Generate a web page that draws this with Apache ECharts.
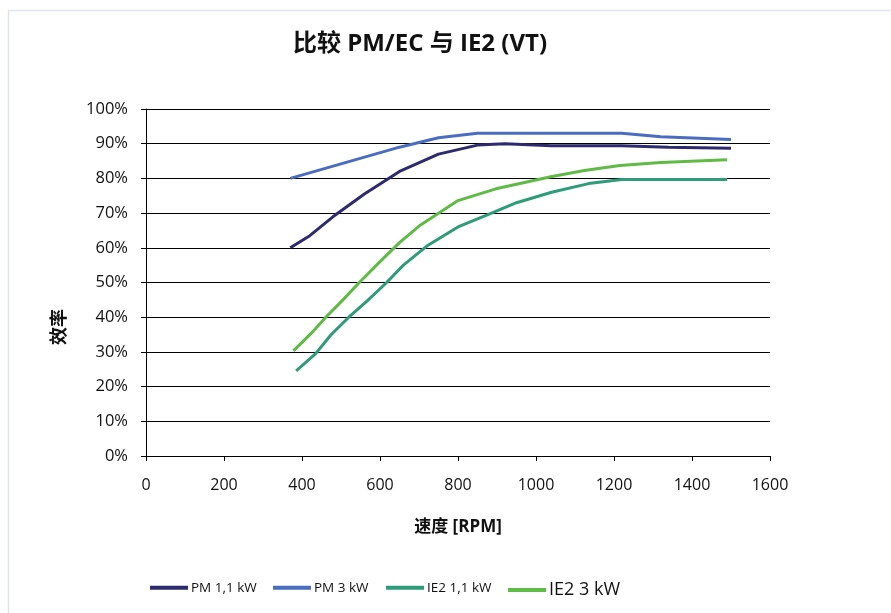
<!DOCTYPE html>
<html>
<head>
<meta charset="utf-8">
<script src="https://cdn.jsdelivr.net/npm/echarts@6/dist/echarts.min.js"></script>
<style>html,body{margin:0;padding:0;background:#fff}#c{width:891px;height:613px}</style>
</head>
<body>
<div id="c"></div>
<script>
var xTicks = [0, 200, 400, 600, 800, 1000, 1200, 1400, 1600];
var seriesNames = ['PM 1,1 kW', 'PM 3 kW', 'IE2 1,1 kW', 'IE2 3 kW'];
var pm11 = [[370,60],[420,63.5],[480,69],[560,75.5],[650,82],[750,87],[850,89.6],[920,90],[1040,89.4],[1220,89.4],[1340,89],[1500,88.7]];
var pm3 = [[370,80],[650,89],[750,91.7],[850,93],[1120,93],[1220,93],[1320,92],[1500,91.2]];
var ie211 = [[385,24.5],[435,29.5],[475,35],[520,40],[570,45],[617,50],[660,55],[720,60.5],[800,66],[886,70],[950,73],[1040,76],[1135,78.5],[1220,79.7],[1490,79.7]];
var ie23 = [[378,30.3],[424,35.4],[461,40],[505,45],[547,50],[600,56],[650,61.5],[704,66.6],[800,73.6],[897,77],[1038,80.5],[1124,82.3],[1215,83.7],[1320,84.6],[1490,85.4]];
var colors = ['#2d2a6e', '#4a6dbf', '#2e9c78', '#5fbb46'];

var font = '"Open Sans", "Noto Sans CJK SC", sans-serif';
var chart = echarts.init(document.getElementById('c'));
function lg(i, left, size) {
  return {
    show: true, left: left, top: 576, itemWidth: 38, itemHeight: 14, itemGap: 4,
    data: [{name: seriesNames[i], icon: 'path://M0,0 L10,0 L10,1 L0,1 Z'}],
    textStyle: {fontFamily: font, fontSize: size, color: '#111', padding: [0,0,0,-2]}
  };
}
chart.setOption({
  animation: false,
  color: colors,
  title: {
    text: '比较 PM/EC 与 IE2 (VT)', left: 415, top: 27, textAlign: 'center',
    textStyle: {fontFamily: font, fontSize: 24, fontWeight: 'bold', color: '#111'}
  },
  graphic: [
    {type: 'line', shape: {x1: 8, y1: 10.5, x2: 891, y2: 10.5}, style: {stroke: '#dde5ea', lineWidth: 1.5}},
    {type: 'line', shape: {x1: 8.5, y1: 10, x2: 8.5, y2: 613}, style: {stroke: '#dde5ea', lineWidth: 1.5}},
    {type: 'text', x: 60, y: 327, rotation: Math.PI / 2,
     style: {text: '效率', fontFamily: font, fontSize: 18, fontWeight: 'bold', fill: '#111', textAlign: 'center', textVerticalAlign: 'middle'}}
  ],
  legend: [lg(0, 145, 13.5), lg(1, 268, 13.5), lg(2, 381, 13.5), lg(3, 503, 18)],
  grid: {left: 146, right: 121, top: 109, bottom: 157},
  xAxis: {
    type: 'value', min: 0, max: 1600, interval: 200,
    name: '速度 [RPM]', nameLocation: 'middle', nameGap: 63,
    nameTextStyle: {fontFamily: font, fontSize: 17, fontWeight: 'bold', color: '#111'},
    axisLine: {show: true, lineStyle: {color: '#000', width: 1}},
    axisTick: {show: true, length: 5, lineStyle: {color: '#000'}},
    axisLabel: {fontFamily: font, fontSize: 16, color: '#111', margin: 21,
      formatter: function (v) { return xTicks.indexOf(v) >= 0 ? String(v) : ''; }},
    splitLine: {show: false}
  },
  yAxis: {
    type: 'value', min: 0, max: 100, interval: 10,
    axisLine: {show: true, lineStyle: {color: '#000', width: 1}},
    axisTick: {show: true, length: 5, lineStyle: {color: '#000'}},
    axisLabel: {fontFamily: font, fontSize: 16.5, color: '#111', margin: 18, formatter: '{value}%'},
    splitLine: {show: true, lineStyle: {color: '#000', width: 1}}
  },
  series: [
    {name: seriesNames[0], type: 'line', data: pm11, showSymbol: false, lineStyle: {width: 3}},
    {name: seriesNames[1], type: 'line', data: pm3, showSymbol: false, lineStyle: {width: 3}},
    {name: seriesNames[2], type: 'line', data: ie211, showSymbol: false, lineStyle: {width: 3}},
    {name: seriesNames[3], type: 'line', data: ie23, showSymbol: false, lineStyle: {width: 3}}
  ]
});
</script>
</body>
</html>
